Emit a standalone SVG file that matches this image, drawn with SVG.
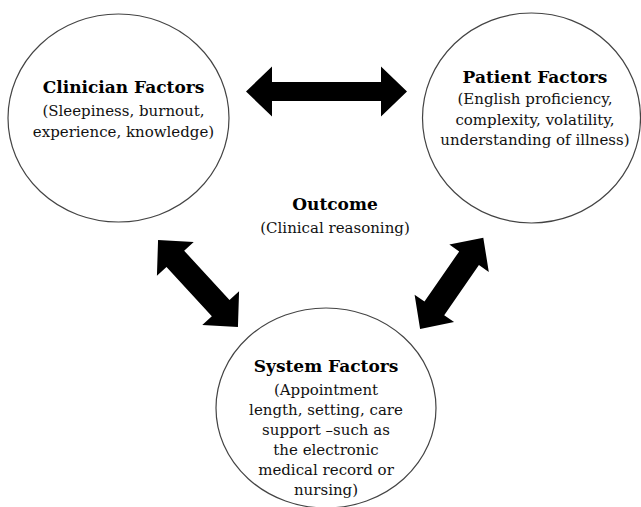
<svg xmlns="http://www.w3.org/2000/svg" width="641" height="507" viewBox="0 0 641 507">
<style>
.node ellipse{fill:#fff;stroke:#444;stroke-width:1.2}
.h{font-family:"DejaVu Serif","Liberation Serif",serif;font-weight:bold;font-size:17px;fill:#000;text-anchor:middle}
.t{font-family:"DejaVu Serif","Liberation Serif",serif;font-size:15px;fill:#111;text-anchor:middle}
.arrow{fill:#000}
</style>
<rect width="641" height="507" fill="#fff"/>
<g id="clinician" class="node">
<ellipse cx="118.5" cy="118" rx="110.5" ry="104"/>
<text class="h" x="123.5" y="93">Clinician Factors</text>
<text class="t" x="123.5" y="116">(Sleepiness, burnout,</text>
<text class="t" x="123.5" y="137">experience, knowledge)</text>
</g>
<g id="patient" class="node">
<ellipse cx="531.5" cy="118" rx="109" ry="105"/>
<text class="h" x="535" y="83">Patient Factors</text>
<text class="t" x="535" y="104">(English proficiency,</text>
<text class="t" x="535" y="125">complexity, volatility,</text>
<text class="t" x="535" y="145">understanding of illness)</text>
</g>
<g id="system" class="node">
<ellipse cx="326" cy="408" rx="110" ry="100"/>
<text class="h" x="326" y="372">System Factors</text>
<text class="t" x="326" y="395">(Appointment</text>
<text class="t" x="326" y="415">length, setting, care</text>
<text class="t" x="326" y="435">support –such as</text>
<text class="t" x="326" y="455">the electronic</text>
<text class="t" x="326" y="475">medical record or</text>
<text class="t" x="326" y="495">nursing)</text>
</g>
<g id="outcome">
<text class="h" x="335" y="210">Outcome</text>
<text class="t" x="335" y="233">(Clinical reasoning)</text>
</g>
<g id="connectors" class="arrow">
<polygon transform="translate(326.5,91.5)" points="-80.5,0 -54.5,-25 -54.5,-9.5 54.5,-9.5 54.5,-25 80.5,0 54.5,25 54.5,9.5 -54.5,9.5 -54.5,25"/>
<polygon transform="translate(198,283.5) rotate(47.4)" points="-59,0 -33.5,-25 -33.5,-12 33.5,-12 33.5,-25 59,0 33.5,25 33.5,12 -33.5,12 -33.5,25"/>
<polygon transform="translate(451.7,283.3) rotate(-55.3)" points="-55.5,0 -30.5,-24 -30.5,-12 30.5,-12 30.5,-24 55.5,0 30.5,24 30.5,12 -30.5,12 -30.5,24"/>
</g>
</svg>
